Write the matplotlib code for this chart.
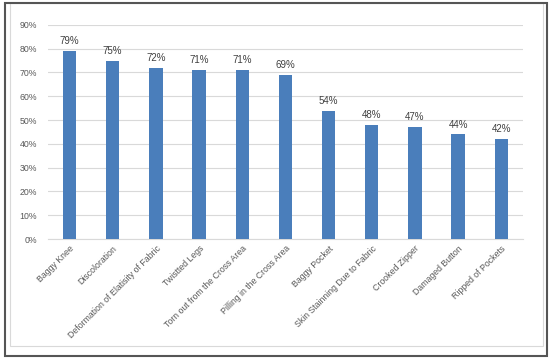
import matplotlib
matplotlib.use("Agg")
import matplotlib.pyplot as plt
from matplotlib.patches import Rectangle
from matplotlib.ticker import PercentFormatter

# data
defects = ["Baggy Knee", "Discoloration", "Deformation of Elatisity of Fabric",
           "Twistted Legs", "Torn out from the Cross Area", "Pilling in the Cross Area",
           "Baggy Pocket", "Skin Stainning Due to Fabric", "Crooked Zipper",
           "Damaged Button", "Ripped of Pockets"]
shares = [0.79, 0.75, 0.72, 0.71, 0.71, 0.69, 0.54, 0.48, 0.47, 0.44, 0.42]

plt.rcParams['font.family'] = ['Liberation Sans', 'DejaVu Sans']
txt = '#595959'

fig = plt.figure(figsize=(5.51, 3.6), dpi=100)
ax = fig.add_axes([0.087, 0.336, 0.862, 0.595])

x = range(len(defects))
bars = ax.bar(x, shares, width=0.31, color='#4a7ebb', zorder=3)
for b, v in zip(bars, shares):
    ax.text(b.get_x() + b.get_width() / 2, v + 0.02, f"{round(v * 100)}%",
            ha='center', va='bottom', fontsize=7, color='#404040')

ax.set_ylim(0, 0.9)
ax.set_xlim(-0.5, len(defects) - 0.5)
ax.set_yticks([i / 10 for i in range(10)])
ax.yaxis.set_major_formatter(PercentFormatter(1.0, decimals=0))
ax.grid(axis='y', color='#d9d9d9', linewidth=0.8, zorder=0)
ax.set_xticks(list(x))
ax.set_xticklabels(defects, rotation=45, ha='right', rotation_mode='anchor')
ax.tick_params(axis='both', length=0, labelsize=6.3, colors=txt)
ax.tick_params(axis='y', pad=8)
for s in ['top', 'right', 'left']:
    ax.spines[s].set_visible(False)
ax.spines['bottom'].set_color('#d9d9d9')

# outer frames
fig.patches.append(Rectangle((10 / 551, 14 / 360), 533 / 551, 343 / 360, transform=fig.transFigure,
                             fill=False, edgecolor='#d9d9d9', linewidth=0.8))
fig.patches.append(Rectangle((5 / 551, 4 / 360), 542 / 551, 353 / 360, transform=fig.transFigure,
                             fill=False, edgecolor='#555555', linewidth=1.5))

fig.savefig("out.png", dpi=100)
